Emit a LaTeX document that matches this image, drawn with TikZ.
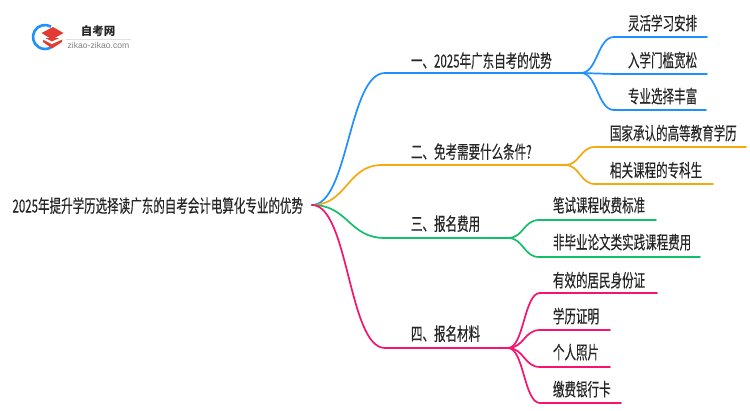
\documentclass[tikz,border=0pt]{standalone}
\usepackage{fontspec}
\setmainfont[FakeStretch=0.64,FakeBold=0.25]{Noto Sans CJK SC}
\newfontfamily\logocjk{Noto Sans CJK SC}
\newfontfamily\latinf{Liberation Sans}
\usetikzlibrary{calc}
\definecolor{cblue}{HTML}{1E90FF}
\definecolor{corange}{HTML}{F5A90F}
\definecolor{cgreen}{HTML}{13BF6A}
\definecolor{cpink}{HTML}{F5146E}
\definecolor{txt}{HTML}{262626}
\definecolor{lred}{HTML}{E23B32}
\tikzset{
  lab/.style={inner sep=0pt,outer sep=0pt,text=txt,font=\fontsize{18}{18}\selectfont,anchor=base west},
  wire/.style={line width=1.7pt,line cap=round}
}
\newcommand{\sbez}[3]{\draw[wire,#1] let \p1=(#2),\p2=(#3),\n1={.5*(\x1+\x2)} in (#2) .. controls (\n1,\y1) and (\n1,\y2) .. (#3);}
\begin{document}
\begin{tikzpicture}[x=1pt,y=-1pt]
\useasboundingbox (0,0) rectangle (750,410);
\fill[white] (0,0) rectangle (750,410);
% logo
\draw[line width=2.6pt,cblue] (51,26.6) arc[start angle=-60,end angle=-300,radius=12];
\fill[lred] (43,38) -- (62,38) -- (62,42) -- (52,48.5) -- (43,42) -- cycle;
\fill[white] (43,37) -- (52,41.5) -- (62,37) -- (62,39.5) -- (52,44) -- (43,39.5) -- cycle;
\fill[lred] (41.5,33) -- (53,27) -- (63.5,33) -- (52,39.5) -- cycle;
\node[inner sep=0pt,font=\logocjk\bfseries\fontsize{11.5}{12}\selectfont,text=txt] (logoa) at (98,31) {自考网};
\node[inner sep=0pt,font=\latinf\fontsize{8.6}{9}\selectfont,text=gray] (logob) at (98.5,45) {zikao-zikao.com};
\draw[gray!25,line width=.5pt] (66,39) -- (131,39);
% texts
\node[lab] (root) at (12.5,212.5) {2025年提升学历选择读广东的自考会计电算化专业的优势};
\node[lab] (a) at (411,67.5) {一、2025年广东自考的优势};
\node[lab] (b) at (411,158.5) {二、免考需要什么条件?};
\node[lab] (c) at (411,230.5) {三、报名费用};
\node[lab] (d) at (411,340.5) {四、报名材料};
\node[lab] (a1) at (628,30) {灵活学习安排};
\node[lab] (a2) at (628,67) {入学门槛宽松};
\node[lab] (a3) at (628,103) {专业选择丰富};
\node[lab] (b1) at (610,140) {国家承认的高等教育学历};
\node[lab] (b2) at (610,177) {相关课程的专科生};
\node[lab] (c1) at (553,212) {笔试课程收费标准};
\node[lab] (c2) at (553,249) {非毕业论文类实践课程费用};
\node[lab] (d1) at (553,287) {有效的居民身份证};
\node[lab] (d2) at (553,323) {学历证明};
\node[lab] (d3) at (553,359) {个人照片};
\node[lab] (d4) at (553,396) {缴费银行卡};
% junctions
\coordinate (o) at (312,205);
\coordinate (ja0) at (385,73); \coordinate (ja) at (581,73);
\coordinate (jb0) at (382,165); \coordinate (jb) at (565,165);
\coordinate (jc0) at (385,238); \coordinate (jc) at (508,238);
\coordinate (jd0) at (385,348); \coordinate (jd) at (508,348);
\sbez{cblue}{o}{ja0}
\draw[wire,cblue] (ja0) -- (ja);
\sbez{corange}{o}{jb0}
\draw[wire,corange] (jb0) -- (jb);
\sbez{cgreen}{o}{jc0}
\draw[wire,cgreen] (jc0) -- (jc);
\sbez{cpink}{o}{jd0}
\draw[wire,cpink] (jd0) -- (jd);
% leaves
\foreach \nm/\ax/\ay/\ex/\col/\jn in {
 a1/614/37/707/cblue/ja, a2/614/74/707/cblue/ja, a3/614/110/706/cblue/ja,
 b1/595/147/746/corange/jb, b2/595/184/713/corange/jb,
 c1/539/220/656/cgreen/jc, c2/539/257/700/cgreen/jc,
 d1/540/293/657/cpink/jd, d2/540/330/610/cpink/jd, d3/540/367/610/cpink/jd, d4/540/403/621/cpink/jd}{
  \coordinate (\nm s) at (\ax,\ay);
  \coordinate (\nm e) at (\ex,\ay);
  \sbez{\col}{\jn}{\nm s}
  \draw[wire,\col] (\nm s) -- (\nm e);
}
\end{tikzpicture}
\end{document}
